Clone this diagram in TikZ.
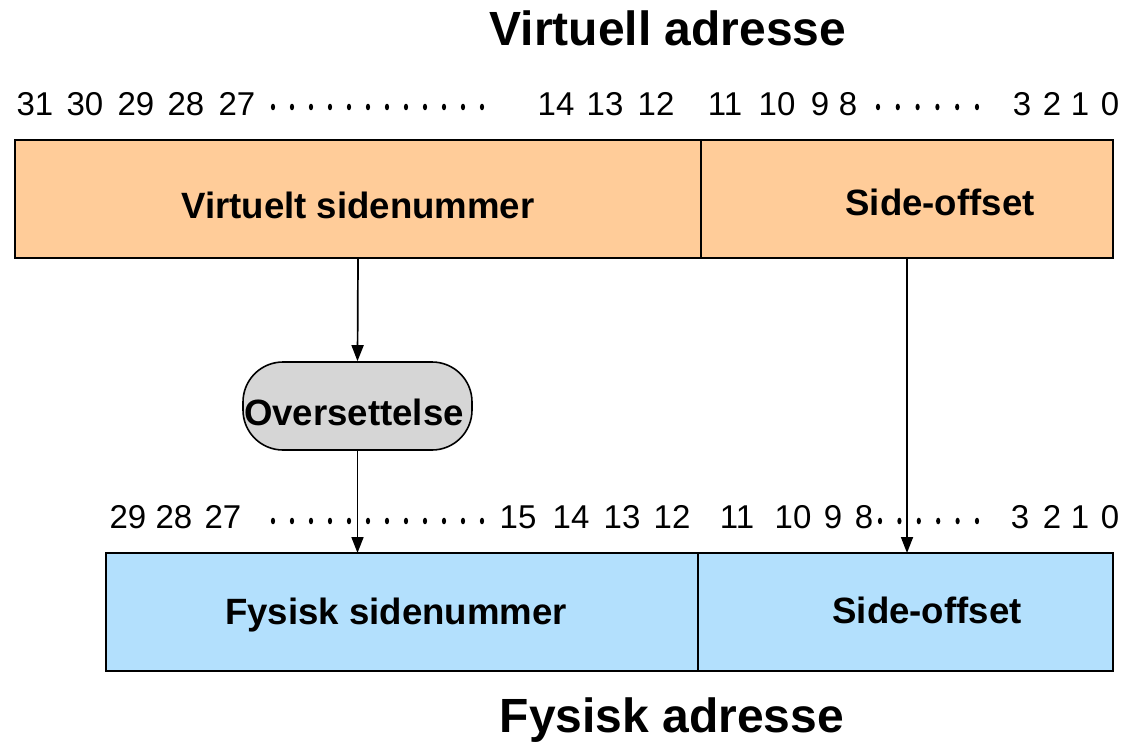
\documentclass[tikz,border=0pt]{standalone}
\usepackage{fontspec}
\setmainfont{Liberation Sans}
\usetikzlibrary{arrows.meta}
\definecolor{peach}{HTML}{FFCC99}
\definecolor{skyfill}{HTML}{B3E0FD}
\definecolor{ovalgray}{HTML}{D6D6D6}
\tikzset{
  field/.style={draw=black, line width=1.8pt, inner sep=0pt, outer sep=0pt},
  fieldtext/.style={font=\fontsize{36.6}{40}\selectfont\bfseries, inner sep=0pt},
  headline/.style={font=\fontsize{48}{52}\selectfont\bfseries, inner sep=0pt},
  bitno/.style={font=\fontsize{33}{36}\selectfont, inner sep=0pt, anchor=base},
  flow/.style={line width=1.7pt, -{Triangle[width=12pt,length=16pt]}},
  bitdot/.style={fill=black}
}
\begin{document}
\begin{tikzpicture}[x=1pt, y=-1pt]
\useasboundingbox (0,0) rectangle (1126,746);

% titles
\node[headline] (vtitle) at (668,28) {Virtuell adresse};
\node[headline] (ptitle) at (672,720) {Fysisk adresse};

% virtual address fields
\node[field, fill=peach, minimum width=686pt, minimum height=118pt] (vpn) at (358,199) {};
\node[field, fill=peach, minimum width=412pt, minimum height=118pt] (voff) at (907,199) {};
\node[fieldtext] (vpnlbl) at (358,205) {Virtuelt sidenummer};
\node[fieldtext] (vofflbl) at (940,202) {Side-offset};

% physical address fields
\node[field, fill=skyfill, minimum width=592pt, minimum height=118pt] (ppn) at (402,612) {};
\node[field, fill=skyfill, minimum width=415pt, minimum height=118pt] (poff) at (905.5,612) {};
\node[fieldtext] (ppnlbl) at (396,615) {Fysisk sidenummer};
\node[fieldtext] (pofflbl) at (927,610) {Side-offset};

% translation step
\node[draw=black, line width=1.6pt, fill=ovalgray, rounded corners=40pt,
      minimum width=229pt, minimum height=88pt, inner sep=0pt] (trans) at (357.5,406) {};
\node[fieldtext] (translbl) at (354,412) {Oversettelse};

% bit numbers, virtual address
\foreach \n/\x in {31/35,30/85,29/136,28/186,27/237,14/556,13/605,12/656,11/725,10/777,9/820,8/848,3/1022,2/1052,1/1080,0/1110}
  \node[bitno] (t\n) at (\x,116) {\n};
\foreach \i in {0,...,11}
  \fill[bitdot] (273+19*\i,107) ellipse (2.1 and 3.3);
\foreach \i in {0,...,5}
  \fill[bitdot] (878+19.8*\i,107) ellipse (2.1 and 3.3);

% bit numbers, physical address
\foreach \n/\x in {29/128,28/174,27/223,15/518,14/571,13/622,12/672,11/737,10/793,9/833,8/864,3/1020,2/1052,1/1080,0/1110}
  \node[bitno] (b\n) at (\x,528) {\n};
\foreach \i in {0,...,11}
  \fill[bitdot] (273+19*\i,521) ellipse (2.1 and 3.3);
\foreach \i in {0,...,5}
  \fill[bitdot] (880+19.4*\i,521) ellipse (2.1 and 3.3);

% connectors
\draw[flow] (vpn.south) -- (trans.north);
\draw[flow] (trans.south) -- (trans.south |- ppn.north);
\draw[flow] (voff.south) -- (voff.south |- poff.north);
\end{tikzpicture}
\end{document}
